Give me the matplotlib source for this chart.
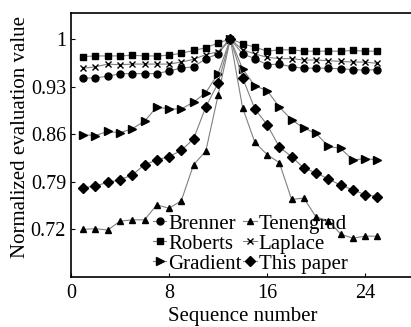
import numpy as np
import matplotlib.pyplot as plt

plt.rcParams['font.family'] = ['Liberation Serif', 'DejaVu Serif']

# Sequence numbers of the image stack
seq = np.arange(1, 26)

# Normalized focus-measure values per method
brenner = [0.942, 0.943, 0.945, 0.949, 0.949, 0.949, 0.949, 0.953, 0.957, 0.959, 0.971, 0.978, 1.0,
           0.978, 0.971, 0.962, 0.963, 0.959, 0.957, 0.957, 0.957, 0.956, 0.955, 0.954, 0.955]
roberts = [0.974, 0.975, 0.975, 0.975, 0.976, 0.975, 0.975, 0.976, 0.979, 0.983, 0.987, 0.994, 1.0,
           0.993, 0.988, 0.982, 0.984, 0.984, 0.982, 0.982, 0.982, 0.982, 0.983, 0.982, 0.982]
gradient = [0.859, 0.858, 0.864, 0.862, 0.868, 0.879, 0.900, 0.897, 0.897, 0.907, 0.921, 0.949, 1.0,
            0.956, 0.931, 0.924, 0.900, 0.881, 0.869, 0.861, 0.842, 0.839, 0.822, 0.824, 0.822]
tenengrad = [0.720, 0.721, 0.719, 0.732, 0.734, 0.734, 0.756, 0.751, 0.762, 0.815, 0.835, 0.917, 1.0,
             0.899, 0.848, 0.830, 0.818, 0.764, 0.766, 0.738, 0.733, 0.713, 0.707, 0.710, 0.710]
laplace = [0.957, 0.959, 0.963, 0.962, 0.963, 0.963, 0.963, 0.963, 0.966, 0.970, 0.977, 0.981, 1.0,
           0.984, 0.978, 0.973, 0.971, 0.971, 0.969, 0.969, 0.968, 0.967, 0.966, 0.966, 0.964]
this_paper = [0.781, 0.784, 0.789, 0.793, 0.800, 0.815, 0.822, 0.827, 0.836, 0.853, 0.900, 0.935, 1.0,
              0.943, 0.897, 0.874, 0.841, 0.827, 0.810, 0.803, 0.794, 0.785, 0.778, 0.771, 0.768]

xticks = [0, 8, 16, 24]
yticks = [0.72, 0.79, 0.86, 0.93, 1.0]
ytick_labels = ['0.72', '0.79', '0.86', '0.93', '1']

fig = plt.figure(figsize=(4.11, 3.27), dpi=100)
ax = fig.add_axes([0.1727, 0.153, 0.835, 0.807])

line_kw = dict(color='#808080', lw=0.8, markerfacecolor='black', markeredgecolor='black')
series = [
    (brenner, 'o', 5.0, 'Brenner'),
    (roberts, 's', 4.5, 'Roberts'),
    (gradient, '>', 5.5, 'Gradient'),
    (tenengrad, '^', 5.0, 'Tenengrad'),
    (laplace, 'x', 4.5, 'Laplace'),
    (this_paper, 'D', 5.0, 'This paper'),
]
for vals, mk, ms, name in series:
    ax.plot(seq, vals, marker=mk, markersize=ms, label=name, **line_kw)

ax.set_xlim(0, 28)
ax.set_ylim(0.65, 1.038)
ax.set_xticks(xticks)
ax.set_yticks(yticks)
ax.set_yticklabels(ytick_labels)
ax.tick_params(direction='in', length=3, width=0.8, labelsize=14.5)
ax.tick_params(axis='x', pad=5)

for side in ['left', 'bottom', 'top']:
    ax.spines[side].set_linewidth(1.2)
ax.spines['right'].set_visible(False)

ax.set_xlabel('Sequence number', fontsize=15, labelpad=3)
ax.set_ylabel('Normalized evaluation value', fontsize=15)
ax.yaxis.set_label_coords(-0.12, 0.53)

ax.legend(ncol=2, loc='upper left', bbox_to_anchor=(0.372, 0.345),
          bbox_transform=fig.transFigure, frameon=False, fontsize=15,
          handlelength=0.65, handletextpad=0.1, columnspacing=0.05,
          labelspacing=0.02, borderpad=0, borderaxespad=0)

fig.savefig('out.png', dpi=100)
